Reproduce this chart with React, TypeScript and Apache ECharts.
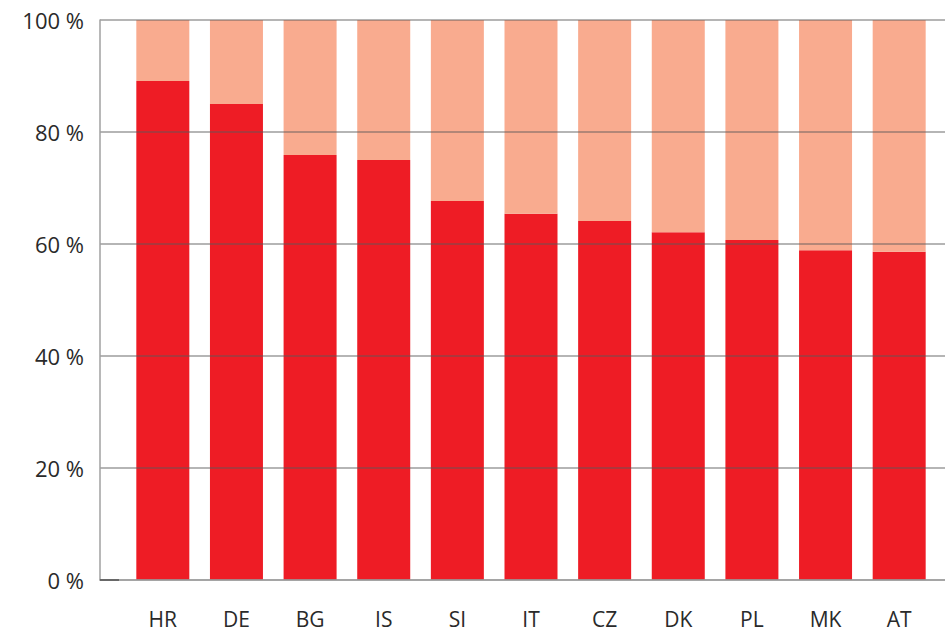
import React, { useEffect, useRef } from "react";
import * as echarts from "echarts";

const categories = ["HR", "DE", "BG", "IS", "SI", "IT", "CZ", "DK", "PL", "MK", "AT"];
const mainShare = [89.1, 85.0, 75.9, 75.0, 67.7, 65.4, 64.1, 62.1, 60.7, 58.9, 58.6];
const restShare = mainShare.map((v) => +(100 - v).toFixed(1));
const yTicks = { min: 0, max: 100, interval: 20 };

export default function App() {
  const ref = useRef<HTMLDivElement>(null);
  useEffect(() => {
    if (!ref.current) return;
    const chart = echarts.init(ref.current, null, { renderer: "svg" });
    const font = "'Open Sans', 'DejaVu Sans', sans-serif";
    chart.setOption({
      animation: false,
      backgroundColor: "#ffffff",
      grid: [
        { left: 100, right: 0, top: 20, bottom: 53 },
        { left: 126, width: 810, top: 20, bottom: 53 },
      ],
      xAxis: [
        {
          gridIndex: 0,
          type: "category",
          data: [""],
          axisLabel: { show: false },
          axisTick: { show: false },
          axisLine: { show: true, lineStyle: { color: "#a0a0a0", width: 1.5 } },
          z: 10,
        },
        {
          gridIndex: 1,
          type: "category",
          data: categories,
          axisLine: { show: false },
          axisTick: { show: false },
          axisLabel: { color: "#2a2a2a", fontSize: 21, fontFamily: font, margin: 28 },
        },
      ],
      yAxis: [
        {
          gridIndex: 0,
          type: "value",
          min: yTicks.min,
          max: yTicks.max,
          interval: yTicks.interval,
          z: 10,
          axisLine: { show: true, lineStyle: { color: "#a0a0a0", width: 1.5 } },
          axisTick: { show: false },
          axisLabel: {
            formatter: "{value} %",
            color: "#2a2a2a",
            fontSize: 22,
            fontFamily: font,
            margin: 16,
          },
          splitLine: { show: true, lineStyle: { color: "rgba(90,90,90,0.6)", width: 1.5 } },
        },
        {
          gridIndex: 1,
          type: "value",
          min: yTicks.min,
          max: yTicks.max,
          show: false,
          splitLine: { show: false },
        },
      ],
      series: [
        {
          type: "bar",
          xAxisIndex: 1,
          yAxisIndex: 1,
          stack: "s",
          data: mainShare,
          barWidth: 53,
          itemStyle: { color: "#EE1C25" },
        },
        {
          type: "bar",
          xAxisIndex: 1,
          yAxisIndex: 1,
          stack: "s",
          data: restShare,
          barWidth: 53,
          itemStyle: { color: "#F9AB8F" },
        },
      ],
      graphic: [
        {
          type: "line",
          shape: { x1: 100, y1: 580, x2: 119, y2: 580 },
          style: { stroke: "#555", lineWidth: 1.5 },
          z: 20,
        },
      ],
    });
    return () => chart.dispose();
  }, []);
  return (
    <div
      ref={ref}
      style={{ position: "fixed", left: 0, top: 0, width: 945, height: 633 }}
    />
  );
}
